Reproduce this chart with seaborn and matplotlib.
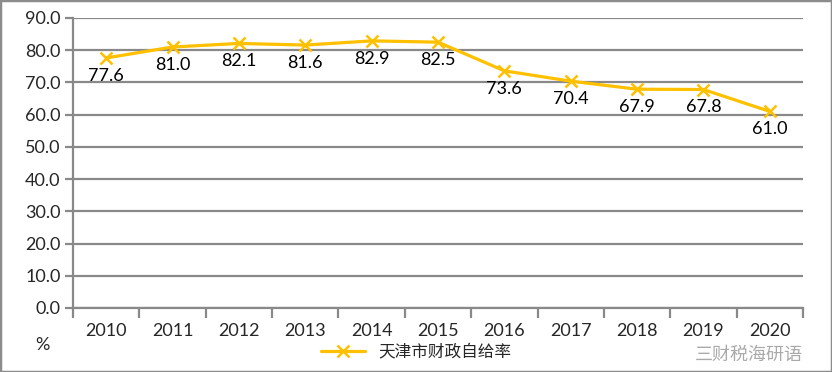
import matplotlib
matplotlib.use("Agg")
import matplotlib.pyplot as plt
import numpy as np
import pandas as pd
import seaborn as sns
from matplotlib.patches import Rectangle

years = ['2010', '2011', '2012', '2013', '2014', '2015', '2016', '2017', '2018', '2019', '2020']
ratio = [77.6, 81.0, 82.1, 81.6, 82.9, 82.5, 73.6, 70.4, 67.9, 67.8, 61.0]
series_name = '天津市财政自给率'

sns.set_style('white')
plt.rcParams['font.family'] = ['Lato', 'Noto Sans CJK SC', 'DejaVu Sans']

gold = '#FFC000'
grid_gray = '#898989'

df = pd.DataFrame({'pos': np.arange(len(years)), 'ratio': ratio})

fig = plt.figure(figsize=(8.32, 3.72), dpi=100)
ax = fig.add_axes([73 / 832, 64 / 372, 730 / 832, 290 / 372])

sns.lineplot(data=df, x='pos', y='ratio', ax=ax, color=gold, linewidth=2.3,
             marker='x', markersize=8, markeredgewidth=1.8, markeredgecolor=gold,
             label=series_name, legend=False)

for i, v in enumerate(ratio):
    ax.annotate('%.1f' % v, (i, v), xytext=(0, -7), textcoords='offset points',
                ha='center', va='top', fontsize=13, color='black')

ax.set_xlim(-0.5, len(years) - 0.5)
ax.set_ylim(0, 90)
ax.set_yticks(np.arange(0, 91, 10))
ax.set_yticklabels(['%.1f' % t for t in np.arange(0, 91, 10)], fontsize=13)
ax.yaxis.grid(True, color=grid_gray, linewidth=1.6)
ax.set_axisbelow(True)

ax.set_xticks(np.arange(len(years)))
ax.set_xticklabels(years, fontsize=13)
ax.set_xticks(np.arange(-0.5, len(years)), minor=True)
ax.tick_params(axis='x', which='major', length=0, pad=11)
ax.tick_params(axis='x', which='minor', length=7, width=1.6, color=grid_gray, direction='out', bottom=True)
ax.tick_params(axis='y', length=6, width=1.6, color=grid_gray, direction='out', left=True, pad=3)
ax.set_xlabel('')
ax.set_ylabel('')

for side in ['top', 'right']:
    ax.spines[side].set_visible(False)
for side in ['left', 'bottom']:
    ax.spines[side].set_color(grid_gray)
    ax.spines[side].set_linewidth(1.6)

fig.text(42 / 832, 1 - 345 / 372, '%', fontsize=13, ha='center', va='center')

handles, labels = ax.get_legend_handles_labels()
fig.legend(handles, labels, loc='center', bbox_to_anchor=(0.5, 20 / 372), frameon=False,
           handlelength=2.6, prop={'family': ['Noto Sans CJK SC', 'DejaVu Sans'], 'size': 12})

# watermark, nudged below the year labels
fig.text(0.965, 1 - 355 / 372, '三财税海研语', fontsize=13, ha='right', va='center',
         color='#9a9a9a', alpha=0.85, family=['Noto Sans CJK SC', 'DejaVu Sans'])

fig.patches.append(Rectangle((0, 0), 1, 1, transform=fig.transFigure, fill=False,
                             edgecolor='#8c8c8c', linewidth=2.5))

fig.savefig('out.png', dpi=100)
